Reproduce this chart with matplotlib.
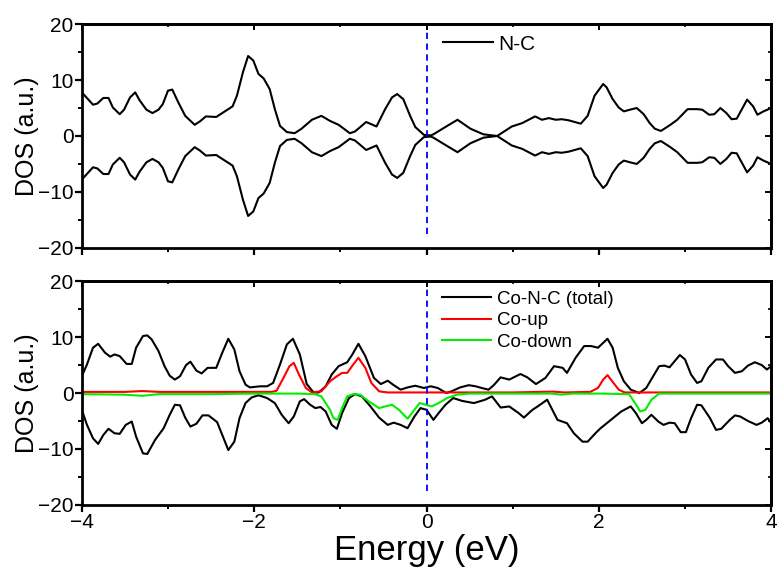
import numpy as np
import matplotlib.pyplot as plt
from matplotlib.ticker import MultipleLocator

plt.rcParams['font.family'] = ['Liberation Sans', 'DejaVu Sans']

# N-C (spin up, spin down is the mirror image)
nc_e = [-4.0, -3.87, -3.82, -3.75, -3.69, -3.64, -3.56, -3.51, -3.44, -3.38, -3.33, -3.25,
        -3.18, -3.11, -3.06, -3.0, -2.95, -2.88, -2.80, -2.69, -2.63, -2.56, -2.44, -2.34,
        -2.25, -2.20, -2.13, -2.07, -2.01, -1.95, -1.89, -1.82, -1.76, -1.70, -1.62, -1.53,
        -1.45, -1.33, -1.22, -1.12, -1.02, -0.89, -0.83, -0.70, -0.58, -0.48, -0.40, -0.34,
        -0.27, -0.19, -0.13, -0.03, 0.05, 0.08, 0.24, 0.36, 0.51, 0.66, 0.82, 0.99, 1.11, 1.26,
        1.34, 1.42, 1.50, 1.57, 1.65, 1.79, 1.87, 1.95, 2.05, 2.09, 2.16, 2.23, 2.29, 2.36,
        2.44, 2.52, 2.59, 2.65, 2.72, 2.83, 2.91, 3.03, 3.14, 3.20, 3.28, 3.34, 3.41, 3.48,
        3.54, 3.60, 3.72, 3.79, 3.84, 3.91, 4.0]
nc_dos = [7.8, 5.6, 5.8, 6.8, 6.8, 5.1, 3.9, 4.7, 6.9, 7.8, 6.4, 4.7,
          4.1, 4.7, 5.7, 8.1, 8.3, 6.0, 3.6, 2.0, 2.6, 3.5, 3.4, 4.4,
          5.3, 7.2, 11.4, 14.3, 13.5, 11.1, 10.3, 8.4, 4.8, 1.8, 0.7, 0.5,
          1.3, 2.9, 3.6, 2.7, 2.0, 0.5, 0.8, 2.5, 1.7, 4.8, 6.9, 7.5,
          6.6, 3.6, 1.6, 0.2, 0.1, 0.3, 1.8, 2.9, 1.3, 0.3, 0.0, 1.7, 2.3, 3.5,
          2.9, 3.2, 2.9, 3.0, 2.8, 2.2, 3.6, 7.2, 9.3, 8.7, 6.6, 5.1, 4.4, 4.7,
          5.0, 3.9, 2.3, 1.3, 0.9, 2.0, 2.9, 4.8, 4.8, 4.7, 3.8, 3.9, 5.0, 4.1,
          3.0, 3.1, 6.5, 5.3, 3.8, 4.4, 5.0]

# Co-N-C total, spin up
tu_e = [-4.0, -3.94, -3.87, -3.81, -3.73, -3.67, -3.62, -3.56, -3.48, -3.42, -3.37, -3.29,
        -3.24, -3.19, -3.11, -3.04, -2.98, -2.92, -2.86, -2.79, -2.74, -2.67, -2.61, -2.54,
        -2.44, -2.37, -2.30, -2.23, -2.17, -2.10, -2.05, -1.93, -1.85, -1.78, -1.70, -1.62,
        -1.55, -1.47, -1.39, -1.31, -1.25, -1.17, -1.10, -1.02, -0.92, -0.86, -0.79, -0.71,
        -0.61, -0.53, -0.45, -0.38, -0.30, -0.22, -0.13, -0.03, 0.05, 0.13, 0.23, 0.29,
        0.39, 0.49, 0.57, 0.64, 0.72, 0.78, 0.86, 0.96, 1.09, 1.17, 1.27, 1.38, 1.48, 1.58,
        1.63, 1.73, 1.83, 1.91, 1.99, 2.10, 2.16, 2.22, 2.29, 2.37, 2.47, 2.55, 2.63, 2.70,
        2.76, 2.82, 2.88, 2.94, 3.00, 3.07, 3.14, 3.19, 3.27, 3.36, 3.44, 3.50, 3.58, 3.66,
        3.73, 3.81, 3.89, 3.95, 4.0]
tu = [3.0, 5.1, 8.1, 8.8, 7.2, 6.5, 6.9, 6.6, 5.2, 5.2, 8.1, 10.2,
      10.3, 9.6, 7.5, 4.8, 3.1, 2.4, 3.0, 5.0, 5.6, 4.0, 3.5, 4.5,
      4.5, 7.2, 9.7, 7.8, 3.9, 1.5, 1.0, 1.2, 1.2, 1.8, 5.1, 8.7,
      9.7, 6.9, 1.6, 0.1, 0.1, 1.2, 3.3, 4.8, 5.5, 6.9, 8.8, 6.6,
      2.7, 1.6, 2.2, 1.4, 0.6, 1.0, 1.3, 0.9, 1.2, 0.9, 0.0, 0.3,
      1.0, 1.4, 1.2, 0.9, 0.6, 1.4, 2.8, 2.4, 3.4, 2.8, 1.6, 2.7, 4.8, 4.5,
      3.6, 6.3, 8.4, 8.4, 8.1, 9.7, 8.1, 4.5, 2.1, 0.6, 0.0, 0.9, 3.0, 4.8,
      4.9, 4.6, 5.7, 6.8, 6.0, 3.3, 1.8, 2.1, 4.5, 6.0, 6.0, 4.8, 3.6, 3.9,
      4.9, 5.5, 5.0, 4.2, 4.8]

# Co-N-C total, spin down
td_e = [-4.0, -3.94, -3.87, -3.81, -3.75, -3.69, -3.62, -3.56, -3.49, -3.42, -3.37, -3.29,
        -3.24, -3.15, -3.05, -2.98, -2.92, -2.86, -2.80, -2.74, -2.67, -2.60, -2.53, -2.43,
        -2.37, -2.30, -2.23, -2.17, -2.10, -2.03, -1.95, -1.85, -1.76, -1.68, -1.60, -1.54,
        -1.47, -1.42, -1.35, -1.29, -1.23, -1.17, -1.10, -1.04, -0.98, -0.90, -0.83, -0.75,
        -0.65, -0.55, -0.45, -0.38, -0.30, -0.22, -0.14, -0.07, 0.00, 0.08, 0.14, 0.22,
        0.31, 0.41, 0.55, 0.68, 0.76, 0.86, 0.96, 1.07, 1.13, 1.23, 1.29, 1.40, 1.52, 1.63,
        1.71, 1.81, 1.87, 1.96, 2.02, 2.14, 2.26, 2.37, 2.43, 2.50, 2.55, 2.61, 2.69, 2.75,
        2.82, 2.88, 2.95, 3.01, 3.07, 3.14, 3.19, 3.29, 3.36, 3.42, 3.52, 3.58, 3.64, 3.73,
        3.83, 3.89, 3.96, 4.0]
td = [-3.0, -5.7, -8.1, -9.1, -7.5, -6.4, -7.2, -7.3, -5.7, -5.1, -7.8, -10.8,
      -10.9, -8.4, -6.3, -3.9, -2.1, -2.2, -4.4, -6.0, -5.5, -4.0, -4.0, -5.2,
      -7.5, -10.2, -8.7, -4.5, -1.8, -0.8, -0.4, -0.9, -1.8, -3.9, -5.4, -4.2,
      -1.5, -1.1, -2.1, -2.7, -2.5, -3.3, -5.7, -6.4, -3.6, -0.9, -0.2, -0.6,
      -2.4, -4.4, -5.7, -5.3, -5.7, -6.3, -4.2, -2.7, -3.0, -4.8, -3.6, -2.1,
      -0.9, -1.4, -1.8, -1.2, -0.6, -2.6, -2.4, -3.6, -4.4, -3.0, -2.4, -1.2, -4.8, -5.4,
      -7.2, -8.7, -8.7, -7.2, -6.3, -4.8, -3.3, -2.4, -3.6, -5.4, -4.8, -3.9, -5.1, -5.7,
      -5.3, -5.4, -7.0, -7.0, -4.5, -2.1, -2.2, -4.5, -6.6, -6.4, -4.8, -4.0, -4.2, -5.0,
      -5.7, -5.3, -4.5, -5.4]

# Co projected, spin up
up_e = [-4.0, -3.5, -3.3, -3.1, -2.5, -2.0, -1.80, -1.74, -1.66, -1.59, -1.54, -1.48,
        -1.40, -1.33, -1.22, -1.12, -1.04, -0.98, -0.92, -0.85, -0.79, -0.71, -0.64, -0.55,
        -0.45, 0.0, 0.5, 1.0, 1.47, 1.6, 1.90, 1.99, 2.05, 2.10, 2.17, 2.23, 2.30, 3.0, 4.0]
up = [0.2, 0.2, 0.35, 0.2, 0.2, 0.2, 0.2, 0.4, 2.7, 4.8, 5.4, 3.3,
      0.9, 0.1, 0.3, 2.1, 3.0, 3.6, 3.6, 5.1, 6.3, 4.5, 1.8, 0.3,
      0.1, 0.1, 0.1, 0.1, 0.25, 0.1, 0.2, 0.9, 2.4, 3.2, 1.8, 0.6, 0.1, 0.1, 0.1]

# Co projected, spin down
dn_e = [-4.0, -3.5, -3.3, -3.1, -2.5, -2.0, -1.5, -1.30, -1.22, -1.12, -1.08, -1.03,
        -0.98, -0.92, -0.85, -0.77, -0.67, -0.55, -0.48, -0.40, -0.32, -0.22, -0.14, -0.08,
        -0.03, 0.06, 0.14, 0.24, 0.35, 0.5, 1.0, 1.45, 1.56, 1.7, 2.0, 2.35, 2.42, 2.48,
        2.54, 2.61, 2.70, 3.0, 4.0]
dn = [-0.2, -0.3, -0.5, -0.2, -0.2, -0.1, -0.1, -0.2, -0.6, -3.0, -4.5, -4.8,
      -2.7, -0.6, -0.2, -0.3, -1.5, -2.7, -2.4, -2.1, -3.0, -4.6, -3.0, -1.8,
      -2.0, -2.4, -1.8, -0.9, -0.3, -0.1, -0.1, -0.1, -0.3, -0.1, -0.1, -0.2, -1.8, -3.3,
      -3.0, -1.2, -0.1, -0.1, -0.1]

fig = plt.figure(figsize=(7.79, 5.75), dpi=100)
ax1 = fig.add_axes([0.105, 0.569, 0.885, 0.389])
ax2 = fig.add_axes([0.105, 0.122, 0.885, 0.389])

ax1.plot(nc_e, nc_dos, color='k', lw=1.5, label='N-C')
ax1.plot(nc_e, -np.array(nc_dos), color='k', lw=1.5)

ax2.plot(tu_e, tu, color='k', lw=1.5, label='Co-N-C (total)')
ax2.plot(td_e, td, color='k', lw=1.5)
ax2.plot(up_e, up, color='#ff0000', lw=1.5, label='Co-up')
ax2.plot(dn_e, dn, color='#00ee00', lw=1.5, label='Co-down')

for ax in (ax1, ax2):
    ax.vlines(0, -17.5, 19.2, colors='#0000ff', linestyles=(0, (3.5, 2.5)), lw=1.3)
    ax.set_xlim(-4, 4)
    ax.set_ylim(-20, 20)
    ax.xaxis.set_major_locator(MultipleLocator(2))
    ax.xaxis.set_minor_locator(MultipleLocator(1))
    ax.yaxis.set_major_locator(MultipleLocator(10))
    ax.yaxis.set_minor_locator(MultipleLocator(5))
    ax.tick_params(which='major', direction='out', length=5, width=1.6, labelsize=15, pad=1)
    ax.tick_params(which='minor', direction='out', length=3, width=1.4)
    for s in ax.spines.values():
        s.set_linewidth(2)
    ax.set_ylabel('DOS (a.u.)', fontsize=18, labelpad=-1)
    # inward ticks on top and right
    top = ax.secondary_xaxis('top')
    top.xaxis.set_major_locator(MultipleLocator(2))
    top.xaxis.set_minor_locator(MultipleLocator(1))
    top.tick_params(which='major', direction='in', length=4, width=1.4, labeltop=False)
    top.tick_params(which='minor', direction='in', length=2.5, width=1.2)
    right = ax.secondary_yaxis('right')
    right.yaxis.set_major_locator(MultipleLocator(10))
    right.yaxis.set_minor_locator(MultipleLocator(5))
    right.tick_params(which='major', direction='in', length=4, width=1.4, labelright=False)
    right.tick_params(which='minor', direction='in', length=2.5, width=1.2)
    for s in list(top.spines.values()) + list(right.spines.values()):
        s.set_linewidth(2)

ax1.tick_params(labelbottom=False)
ax2.set_xlabel('Energy (eV)', fontsize=25, labelpad=1)

ax1.legend(loc='upper left', bbox_to_anchor=(0.512, 0.99), frameon=False, fontsize=15,
           handlelength=2.4, handletextpad=0.25, borderaxespad=0)
ax2.legend(loc='upper left', bbox_to_anchor=(0.512, 0.99), frameon=False, fontsize=13.5,
           handlelength=2.6, handletextpad=0.3, labelspacing=0.22, borderaxespad=0)

fig.savefig('out.png', dpi=100)
